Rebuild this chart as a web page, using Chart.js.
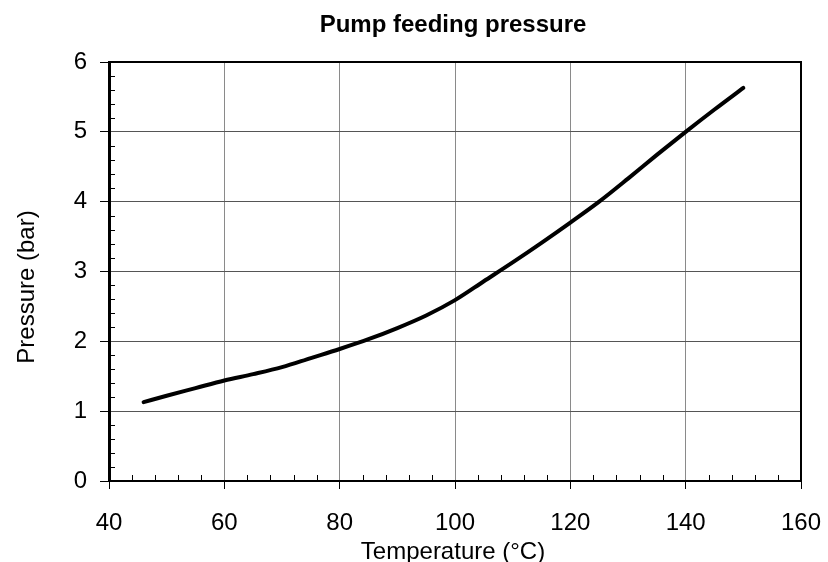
<!DOCTYPE html>
<html>
<head>
<meta charset="utf-8">
<title>Pump feeding pressure</title>
<script src="https://cdn.jsdelivr.net/npm/chart.js@4.4.1/dist/chart.umd.min.js"></script>
<style>
  html, body { margin: 0; padding: 0; background: #fff; }
  #wrap { width: 828px; height: 562px; position: relative; }
</style>
</head>
<body>
<div id="wrap"><canvas id="pumpChart"></canvas></div>
<script>
// Feeding pressure curve, temperature in °C vs pressure in bar
const temperatures = [46, 50, 55, 60, 65, 70, 75, 80, 85, 90, 95, 100, 105, 110, 115, 120, 125, 130, 135, 140, 145, 150];
const pressures = [1.13, 1.22, 1.33, 1.44, 1.53, 1.63, 1.76, 1.89, 2.03, 2.19, 2.37, 2.59, 2.86, 3.13, 3.41, 3.70, 4.00, 4.33, 4.67, 5.00, 5.32, 5.63];

const xMajorTicks = [40, 60, 80, 100, 120, 140, 160];
const yMajorTicks = [0, 1, 2, 3, 4, 5, 6];

const FONT = "'Liberation Sans', Arial, sans-serif";

const isMajor = (list, v) => list.some(m => Math.abs(m - v) < 1e-6);

// frame on top/right, minor ticks inside the plot, titles
const framePlugin = {
  id: 'frame',
  afterDraw(chart) {
    const { ctx, chartArea: a, scales } = chart;
    ctx.save();
    ctx.strokeStyle = '#000';
    ctx.lineWidth = 2;
    ctx.beginPath();
    ctx.moveTo(a.left, a.top);
    ctx.lineTo(a.right, a.top);
    ctx.lineTo(a.right, a.bottom);
    ctx.stroke();

    ctx.lineWidth = 1;
    ctx.beginPath();
    scales.x.ticks.forEach(t => {
      if (isMajor(xMajorTicks, t.value)) return;
      const px = Math.round(scales.x.getPixelForValue(t.value)) + 0.5;
      ctx.moveTo(px, a.bottom);
      ctx.lineTo(px, a.bottom - 6);
    });
    scales.y.ticks.forEach(t => {
      if (isMajor(yMajorTicks, t.value)) return;
      const py = Math.round(scales.y.getPixelForValue(t.value)) + 0.5;
      ctx.moveTo(a.left, py);
      ctx.lineTo(a.left + 6, py);
    });
    ctx.stroke();

    const midX = (a.left + a.right) / 2;
    ctx.fillStyle = '#000';
    ctx.textAlign = 'center';
    ctx.textBaseline = 'alphabetic';
    ctx.font = 'bold 24px ' + FONT;
    ctx.fillText('Pump feeding pressure', midX - 2, 32);
    ctx.font = '24px ' + FONT;
    ctx.fillText('Temperature (°C)', midX - 2, 559);
    ctx.translate(34, 287);
    ctx.rotate(-Math.PI / 2);
    ctx.fillText('Pressure (bar)', 0, 0);
    ctx.restore();
  }
};

new Chart(document.getElementById('pumpChart'), {
  type: 'line',
  data: {
    datasets: [{
      data: temperatures.map((t, i) => ({ x: t, y: pressures[i] })),
      borderColor: '#000',
      borderWidth: 4,
      borderCapStyle: 'round',
      pointRadius: 0,
      cubicInterpolationMode: 'monotone',
      fill: false
    }]
  },
  options: {
    responsive: true,
    maintainAspectRatio: false,
    animation: false,
    layout: { padding: { top: 62, right: 27, bottom: 0, left: 0 } },
    plugins: {
      legend: { display: false },
      tooltip: { enabled: false },
      title: { display: false }
    },
    scales: {
      x: {
        type: 'linear',
        min: 40,
        max: 160,
        afterFit: s => { s.height = 81; s.paddingLeft = 0; s.paddingRight = 0; },
        ticks: {
          stepSize: 4,
          autoSkip: false,
          maxTicksLimit: 1000,
          maxRotation: 0,
          padding: 20,
          color: '#000',
          font: { family: FONT, size: 24 },
          callback: v => (isMajor(xMajorTicks, v) ? v : '')
        },
        grid: {
          color: c => (isMajor(xMajorTicks, c.tick.value) ? '#8a8a8a' : 'rgba(0,0,0,0)'),
          tickColor: c => (isMajor(xMajorTicks, c.tick.value) ? '#000' : 'rgba(0,0,0,0)'),
          tickLength: 8,
          lineWidth: 1
        },
        border: { color: '#000', width: 2 }
      },
      y: {
        type: 'linear',
        min: 0,
        max: 6,
        afterFit: s => { s.width = 109; s.paddingTop = 0; s.paddingBottom = 0; },
        ticks: {
          stepSize: 0.2,
          autoSkip: false,
          maxTicksLimit: 1000,
          padding: 13,
          color: '#000',
          font: { family: FONT, size: 24 },
          callback: v => (isMajor(yMajorTicks, v) ? Math.round(v) : '')
        },
        grid: {
          color: c => (isMajor(yMajorTicks, c.tick.value) ? '#555' : 'rgba(0,0,0,0)'),
          tickColor: c => (isMajor(yMajorTicks, c.tick.value) ? '#000' : 'rgba(0,0,0,0)'),
          tickLength: 9,
          lineWidth: 1
        },
        border: { color: '#000', width: 3 }
      }
    }
  },
  plugins: [framePlugin]
});
</script>
</body>
</html>
